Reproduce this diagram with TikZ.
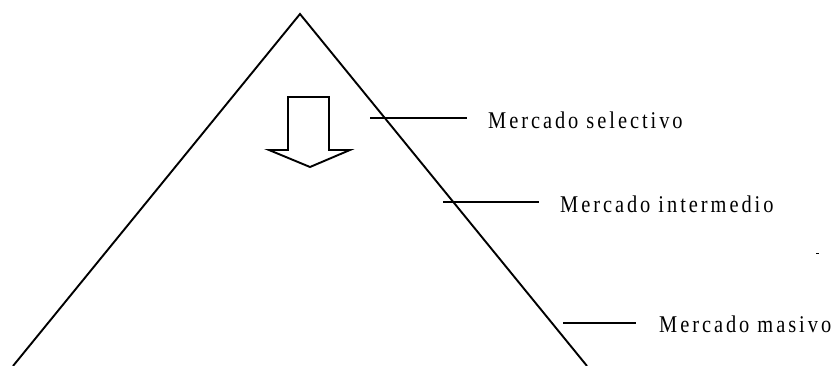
\documentclass[tikz,border=0pt]{standalone}
\usepackage{fontspec}
\setmainfont{Liberation Serif}[LetterSpace=14.5]
\newcommand{\narrow}[1]{\scalebox{0.85}[1]{#1}}
\begin{document}
\begin{tikzpicture}[x=1pt,y=-1pt,
  edge/.style={line width=1.9pt, line join=miter},
  tick/.style={line width=1.8pt},
  lbl/.style={anchor=base west, inner sep=0pt, font=\fontsize{24}{28}\selectfont}]
\useasboundingbox (0,0) rectangle (839,366);
% pyramid sides
\coordinate (apex) at (300,14);
\coordinate (bl) at (13,366);
\coordinate (br) at (587,366);
\draw[edge] (bl) -- (apex) -- (br);
% hollow downward arrow
\draw[edge] (288,97) -- (329,97) -- (329,150) -- (350,150) -- (310,167)
  -- (269,150) -- (288,150) -- cycle;
% market levels
\coordinate (s0) at (370,118);
\coordinate (s1) at (467,118);
\node[lbl] (sel) at (488,129) {\narrow{Mercado selectivo}};
\draw[tick] (s0) -- (s1);
\coordinate (i0) at (443,202);
\coordinate (i1) at (539,202);
\node[lbl] (inter) at (560,213) {\narrow{Mercado intermedio}};
\draw[tick] (i0) -- (i1);
\coordinate (m0) at (563,323);
\coordinate (m1) at (636,323);
\node[lbl] (mas) at (659,333) {\narrow{Mercado masivo}};
\draw[tick] (m0) -- (m1);
% small stray mark
\coordinate (d0) at (816,254);
\coordinate (d1) at (819,254);
\draw[line width=1pt] (d0) -- (d1);
\end{tikzpicture}
\end{document}
